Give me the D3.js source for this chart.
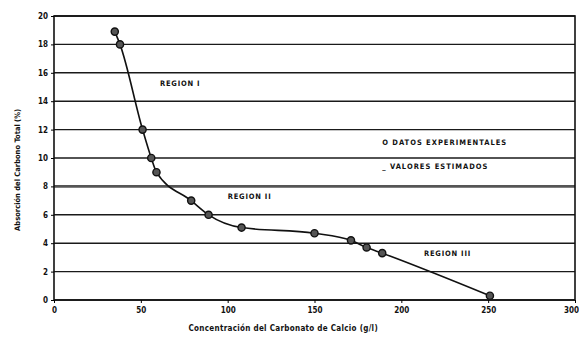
<!DOCTYPE html>
<html>
<head>
<meta charset="utf-8">
<script src="https://cdn.jsdelivr.net/npm/d3@7"></script>
<style>
    body { margin: 0; background: #fff; }
    text { font-family: "Liberation Sans Narrow", "DejaVu Sans Condensed", "Liberation Sans", sans-serif; font-weight: bold; fill: #111; }
</style>
</head>
<body>
<div id="chart"></div>
<script>
// datos
const concentracion = [35, 38, 51, 56, 59, 79, 89, 108, 150, 171, 180, 189, 251];
const experimentales = [18.9, 18, 12, 10, 9, 7, 6, 5.1, 4.7, 4.2, 3.7, 3.3, 0.3];
const yTicks = [0, 2, 4, 6, 8, 10, 12, 14, 16, 18, 20];
const xTicks = [0, 50, 100, 150, 200, 250, 300];
const regiones = ['REGION I', 'REGION II', 'REGION III'];
const regionPos = [[61, 15.1], [100, 7.1], [213, 3.1]];
const leyenda = ['O DATOS EXPERIMENTALES', '_ VALORES ESTIMADOS'];

const W = 579, H = 342;
const margin = {top: 16, right: 4, bottom: 42, left: 54};
const width = W - margin.left - margin.right;
const height = H - margin.top - margin.bottom;

const svg = d3.select('#chart').append('svg')
    .attr('width', W).attr('height', H)
    .append('g')
    .attr('transform', 'translate(' + margin.left + ',' + margin.top + ')');

const xScale = d3.scaleLinear().domain([0, 300]).range([0, width]);
const yScale = d3.scaleLinear().domain([0, 20]).range([height, 0]);

// lineas de la cuadricula
svg.selectAll('.grid').data(yTicks).enter().append('line')
    .attr('x1', 0).attr('x2', width)
    .attr('y1', d => yScale(d)).attr('y2', d => yScale(d))
    .style('stroke', d => d === 8 ? '#555' : '#1a1a1a')
    .style('stroke-width', d => d === 8 ? 2.6 : 1.4);

svg.append('rect').attr('width', width).attr('height', height)
    .style('fill', 'none').style('stroke', '#111').style('stroke-width', 1.6);

const xAxis = d3.axisBottom(xScale).tickValues(xTicks).tickSize(3).tickPadding(4);
const yAxis = d3.axisLeft(yScale).tickValues(yTicks).tickSize(3).tickPadding(3);

svg.append('g').attr('transform', 'translate(0,' + height + ')').call(xAxis)
    .call(g => g.select('.domain').remove())
    .selectAll('text').style('font-size', '8px')
    .attr('dx', d => d === 300 ? -4 : 0);
svg.append('g').call(yAxis)
    .call(g => g.select('.domain').remove())
    .selectAll('text').style('font-size', '8px');

svg.append('text').attr('x', xScale(132)).attr('y', height + 31)
    .style('text-anchor', 'middle').style('font-size', '8px')
    .style('letter-spacing', '0.3px')
    .text('Concentración del Carbonato de Calcio (g/l)');

svg.append('text').attr('transform', 'rotate(-90)')
    .attr('x', -(yScale(9.16))).attr('y', -34)
    .style('text-anchor', 'middle').style('font-size', '7.5px')
    .text('Absorción del Carbono Total (%)');

// curva estimada y datos experimentales
const datos = concentracion.map((c, i) => ({x: c, y: experimentales[i]}));
const linea = d3.line().x(d => xScale(d.x)).y(d => yScale(d.y)).curve(d3.curveMonotoneX);

svg.append('path').datum(datos).attr('d', linea)
    .style('fill', 'none').style('stroke', '#111').style('stroke-width', 1.6);

svg.selectAll('.punto').data(datos).enter().append('circle')
    .attr('cx', d => xScale(d.x)).attr('cy', d => yScale(d.y)).attr('r', 3.6)
    .style('fill', '#555').style('stroke', '#111').style('stroke-width', 1.4);

svg.selectAll('.region').data(regiones).enter().append('text')
    .attr('x', (d, i) => xScale(regionPos[i][0])).attr('y', (d, i) => yScale(regionPos[i][1]))
    .style('font-size', '7.5px').style('letter-spacing', '0.8px').text(d => d);

svg.selectAll('.leyenda').data(leyenda).enter().append('text')
    .attr('x', xScale(189)).attr('y', (d, i) => yScale(i === 0 ? 10.9 : 9.2))
    .style('font-size', '7.5px').style('letter-spacing', '1px').text(d => d);
</script>
</body>
</html>
